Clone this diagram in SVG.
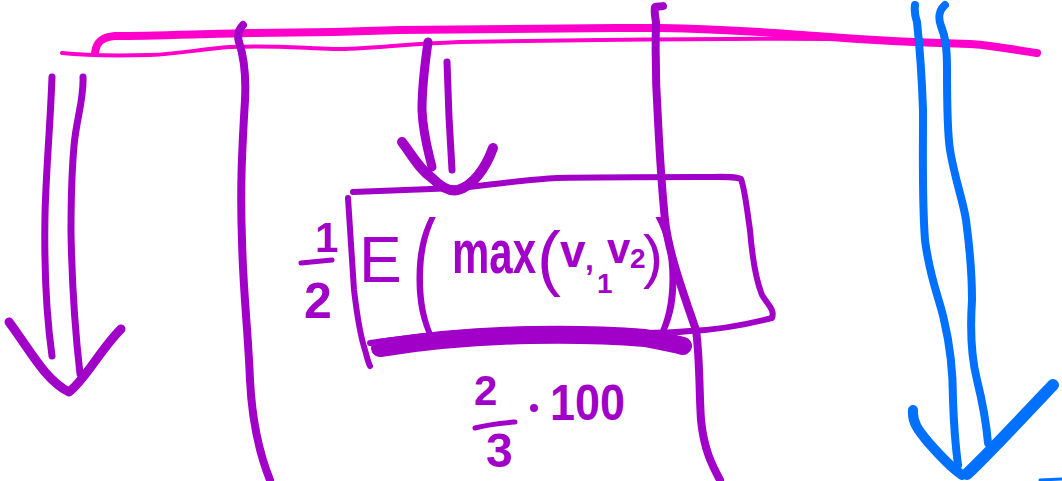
<svg xmlns="http://www.w3.org/2000/svg" width="1062" height="481" viewBox="0 0 1062 481">
<style>
.p{fill:none;stroke:#A100C8;stroke-linecap:round;stroke-linejoin:round}
.k{fill:none;stroke:#FF00CC;stroke-linecap:round;stroke-linejoin:round}
.b{fill:none;stroke:#0070FF;stroke-linecap:round;stroke-linejoin:round}
.t{fill:#A100C8;font-family:"Liberation Sans",Arial,sans-serif;font-weight:bold}
.n{font-weight:normal}
</style>
<rect width="1062" height="481" fill="#fff"/>
<g id="pink-lines">
<path class="k" stroke-width="8" d="M95,53 C96,44 100,37 115,36 C150,36 200,34 250,33 C300,33 350,32 400,30 C450,29 560,28 660,28 C720,29 780,33 830,37 C880,41 930,43 970,44 C1000,46 1020,51 1037,53"/>
<path class="k" stroke-width="4" d="M62,53 C80,55 110,56 150,55 C180,54 200,49 230,47 C270,45 300,48 333,49 C370,49 400,44 460,42 C520,41 560,41 600,40 C680,39 760,38 840,39 C860,40 875,40 890,41"/>
</g>
<g id="connectors">
<g id="left-arrow">
<path class="p" stroke-width="7" d="M52,77 C50,130 46,170 45,215 C44,270 47,320 52,356"/>
<path class="p" stroke-width="7" d="M83,77 C84,100 76,120 74,146 C71,180 71,200 71,232 C72,290 75,330 80,374"/>
<path class="p" stroke-width="9" d="M9,322 C30,350 45,380 69,392 C85,380 100,350 121,329"/>
</g>
<g id="line-a">
<path class="p" stroke-width="8" d="M243,25 C238,30 237,35 239,42 C245,60 246,80 245,100 C242,150 240,190 242,240 C243,290 248,330 250,380 C252,420 258,450 270,480"/>
</g>
<g id="center-arrow">
<path class="p" stroke-width="9" d="M428,42 C424,70 422,90 422,110 C423,135 428,150 432,167"/>
<path class="p" stroke-width="7" d="M447,62 C448,100 450,140 452,170"/>
<path class="p" stroke-width="10" d="M402,142 C412,155 420,170 432,178 C440,186 450,192 458,190 C472,186 485,170 493,148"/>
</g>
<g id="line-b">
<path class="p" stroke-width="8" d="M663,6 C660,7 657,6 655,7 C654,12 655,16 656,22 C655,60 656,90 658,120 C660,160 663,200 665,220 C668,250 682,290 696,330 C700,360 699,390 701,420 C704,450 712,465 720,480"/>
</g>
<g id="blue-arrow">
<path class="b" stroke-width="8" d="M915,5 C914,12 915,16 917,22 C920,50 922,80 923,110 C923,170 922,200 925,240 C930,280 940,300 944,320 C950,345 953,370 953,400 C954,430 956,450 958,465"/>
<path class="b" stroke-width="8" d="M945,5 C939,10 938,18 941,26 C945,36 947,45 947,70 C947,100 947,130 950,150 C955,180 963,200 966,220 C970,250 972,275 972,300 C970,330 972,360 977,380 C982,400 986,420 988,443"/>
<path class="b" stroke-width="10" d="M913,410 C912,422 918,430 928,442 C942,458 952,468 962,475"/>
<path class="b" stroke-width="12" d="M967,474 C990,452 1020,420 1053,385"/>
<path class="b" stroke-width="3" d="M1040,480 L1062,479"/>
</g>
</g>
<g id="box">
<path class="p" stroke-width="6" d="M353,192 C400,190 430,189 457,188 C500,184 530,179 557,178 C600,177 650,177 700,177 C720,177 735,176 741,179 C745,190 747,210 750,230 C752,255 756,280 762,295 C768,305 775,310 772,318 C745,325 715,330 690,331 C670,333 655,333 640,333"/>
<path class="p" stroke-width="6" d="M348,198 C350,230 352,260 354,290 C357,315 360,335 365,350 C367,357 368,362 370,366"/>
<path class="p" stroke-width="18" d="M380,348 C430,340 480,336 530,335 C580,334 620,336 645,338 C660,341 672,343 683,346"/>
<path class="p" stroke-width="6" d="M370,343 C420,336 460,332 500,331 C550,330 600,330 640,332"/>
</g>
<g id="formula">
<text class="t" x="315" y="252" font-size="42">1</text>
<path class="p" stroke-width="5" d="M301,263 C312,262 322,261 332,260"/>
<text class="t" x="304" y="318" font-size="50">2</text>
<text class="t n" x="359" y="282" font-size="64">E</text>
<text class="t n" font-size="132" transform="translate(412,313) scale(0.55,1)">(</text>
<text class="t" font-size="62"><tspan x="452" y="273" textLength="84" lengthAdjust="spacingAndGlyphs">max</tspan><tspan class="n" x="537" y="282" font-size="72">(</tspan><tspan x="560" y="267" font-size="46">v</tspan><tspan x="585" y="270" font-size="32">,</tspan><tspan x="597" y="293" font-size="28">1</tspan><tspan x="607" y="263" font-size="42">v</tspan><tspan x="630" y="268" font-size="28">2</tspan><tspan class="n" x="643" y="277" font-size="60">)</tspan></text>
<text class="t n" font-size="132" transform="translate(655,313) scale(0.6,1)">)</text>
</g>
<g id="fraction">
<text class="t" x="474" y="405" font-size="42">2</text>
<path class="p" stroke-width="5" d="M475,428 C490,424 503,423 515,422"/>
<text class="t" x="486" y="467" font-size="48">3</text>
<circle cx="534" cy="408" r="4" fill="#A100C8"/>
<text class="t" x="550" y="420" font-size="50" textLength="75" lengthAdjust="spacingAndGlyphs">100</text>
</g>
</svg>
